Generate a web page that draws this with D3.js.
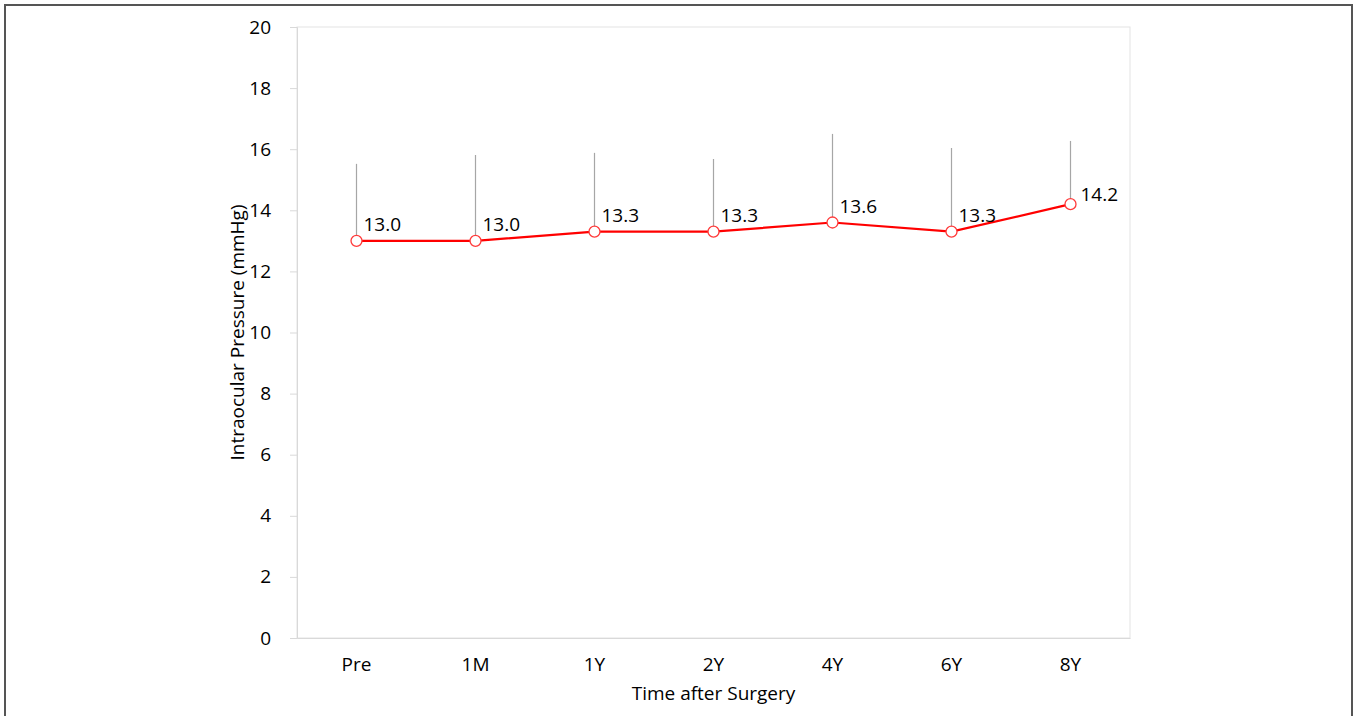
<!DOCTYPE html>
<html>
<head>
<meta charset="utf-8">
<script src="https://cdn.jsdelivr.net/npm/d3@7"></script>
<style>
  html, body { margin: 0; padding: 0; background: #fff; }
  svg { display: block; }
  text { font-family: "Open Sans", "Noto Sans", sans-serif; fill: #000; }
</style>
</head>
<body>
<svg id="chart"></svg>
<script>
const categories = ['Pre', '1M', '1Y', '2Y', '4Y', '6Y', '8Y'];
const iop_mean = [13.0, 13.0, 13.3, 13.3, 13.6, 13.3, 14.2];
const iop_sd = [2.52, 2.81, 2.58, 2.38, 2.9, 2.74, 2.07];
const y_ticks = [0, 2, 4, 6, 8, 10, 12, 14, 16, 18, 20];

const width = 1354;
const height = 716;
const margin = { top: 27, right: 224, bottom: 78, left: 297 };

const svg = d3.select('#chart')
  .attr('width', width)
  .attr('height', height);

// outer frame (bottom edge is cropped in the source)
svg.append('path')
  .attr('d', `M 5 ${height} L 5 5 L ${width - 2} 5 L ${width - 2} ${height}`)
  .attr('fill', 'none')
  .attr('stroke', '#555')
  .attr('stroke-width', 2);

const x = d3.scaleBand()
  .domain(categories)
  .range([margin.left, width - margin.right]);

const y = d3.scaleLinear()
  .domain([0, 20])
  .range([height - margin.bottom, margin.top]);

const cx = d => x(d) + x.bandwidth() / 2;

// plot area border
svg.append('rect')
  .attr('x', margin.left)
  .attr('y', y(20))
  .attr('width', x.range()[1] - margin.left)
  .attr('height', y(0) - y(20))
  .attr('fill', 'none')
  .attr('stroke', '#e3e3e3')
  .attr('stroke-width', 1);

// y axis
const y_axis = svg.append('g')
  .attr('transform', `translate(${margin.left},0)`)
  .call(d3.axisLeft(y).tickValues(y_ticks).tickSize(7).tickPadding(19));
y_axis.select('.domain').attr('stroke', '#d9d9d9');
y_axis.selectAll('.tick line').attr('stroke', '#d9d9d9');
y_axis.selectAll('.tick text')
  .style('font-size', '19px')
  .attr('fill', '#000');

// x axis
const x_axis = svg.append('g')
  .attr('transform', `translate(0,${y(0)})`)
  .call(d3.axisBottom(x).tickSize(0).tickPadding(20));
x_axis.select('.domain').attr('stroke', '#d9d9d9');
x_axis.selectAll('.tick text')
  .style('font-size', '19px')
  .attr('fill', '#000');

// axis titles
svg.append('text')
  .attr('transform', `translate(244,${(y(0) + y(20)) / 2}) rotate(-90)`)
  .attr('text-anchor', 'middle')
  .style('font-size', '19px')
  .text('Intraocular Pressure (mmHg)');

svg.append('text')
  .attr('x', (x.range()[0] + x.range()[1]) / 2)
  .attr('y', 700)
  .attr('text-anchor', 'middle')
  .style('font-size', '19px')
  .text('Time after Surgery');

const points = categories.map((c, i) => ({ cat: c, mean: iop_mean[i], sd: iop_sd[i], i }));

// upper error bars
svg.append('g')
  .selectAll('line')
  .data(points)
  .join('line')
  .attr('x1', d => cx(d.cat))
  .attr('x2', d => cx(d.cat))
  .attr('y1', d => y(d.mean))
  .attr('y2', d => y(d.mean + d.sd))
  .attr('stroke', '#a6a6a6')
  .attr('stroke-width', 1.2);

// mean line
const line = d3.line()
  .x(d => cx(d.cat))
  .y(d => y(d.mean));

svg.append('path')
  .datum(points)
  .attr('d', line)
  .attr('fill', 'none')
  .attr('stroke', '#ff0000')
  .attr('stroke-width', 2.2);

svg.append('g')
  .selectAll('circle')
  .data(points)
  .join('circle')
  .attr('cx', d => cx(d.cat))
  .attr('cy', d => y(d.mean))
  .attr('r', 5.5)
  .attr('fill', '#fff')
  .attr('stroke', '#ff3b3b')
  .attr('stroke-width', 1.3);

// value labels
const last = points.length - 1;
svg.append('g')
  .selectAll('text')
  .data(points)
  .join('text')
  .attr('x', d => cx(d.cat) + (d.i === last ? 10 : 7))
  .attr('y', d => y(d.mean) + (d.i === last ? -10 : -17))
  .attr('dominant-baseline', 'central')
  .style('font-size', '19px')
  .text(d => d.mean.toFixed(1));
</script>
</body>
</html>
